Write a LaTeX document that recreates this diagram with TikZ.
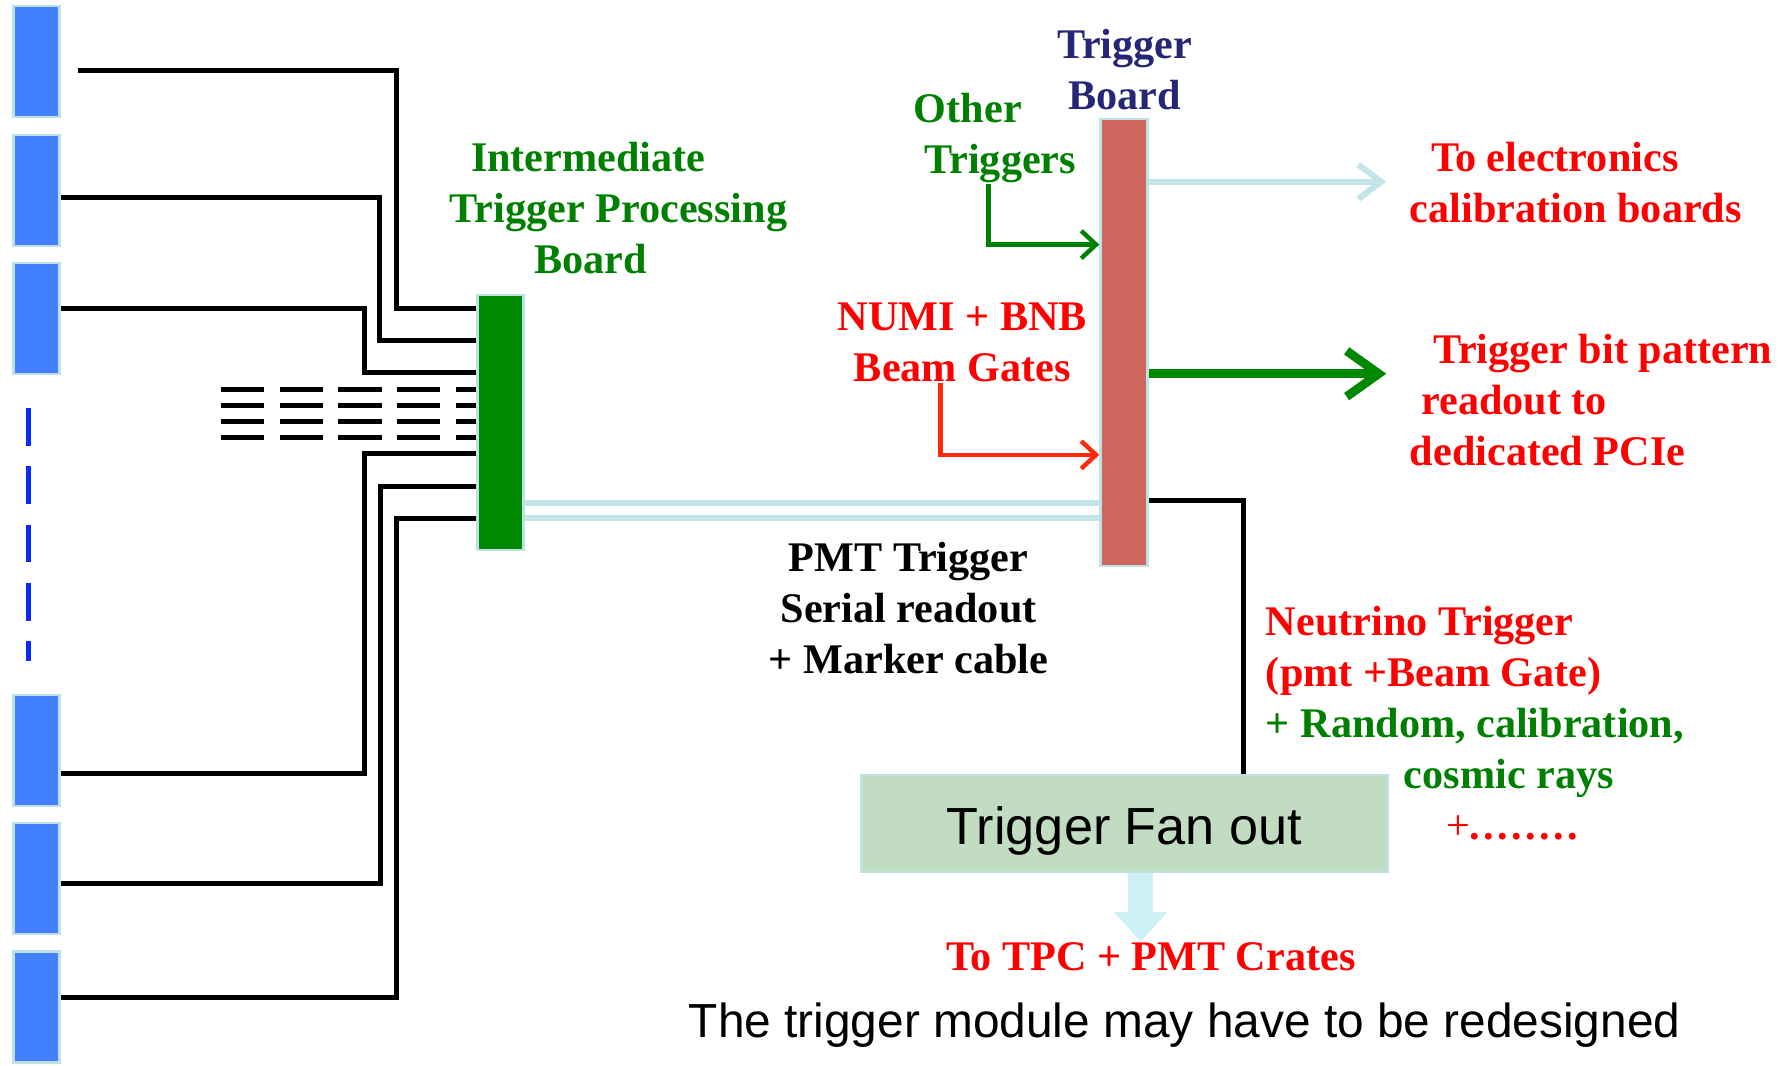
\documentclass[tikz,border=0pt]{standalone}
\usepackage{fontspec}
\setmainfont{Liberation Serif}
\setsansfont{Liberation Sans}
\usetikzlibrary{arrows.meta}
\definecolor{pmtblue}{RGB}{66,128,255}
\definecolor{dotblue}{RGB}{10,40,255}
\definecolor{boardgreen}{RGB}{0,136,0}
\definecolor{labelgreen}{RGB}{0,128,0}
\definecolor{tbred}{RGB}{205,102,92}
\definecolor{tbnavy}{RGB}{38,38,118}
\definecolor{cablecyan}{RGB}{195,228,232}
\definecolor{edgecyan}{RGB}{190,225,230}
\definecolor{fangreen}{RGB}{194,220,194}
\definecolor{beamred}{RGB}{255,40,10}
\definecolor{downcyan}{RGB}{205,240,245}
\newcommand{\dotrun}{\foreach \d in {1,...,8}{.\kern.08em}}
\begin{document}
\begin{tikzpicture}[x=0.01cm,y=-0.01cm,
  every node/.style={font=\fontsize{10.5}{12.7}\selectfont\bfseries,inner sep=0pt},
  pmtbox/.style={draw=edgecyan,fill=pmtblue,line width=0.6pt,minimum width=0.4cm,minimum height=0.97cm},
  wire/.style={line width=1.3pt},
  cable/.style={cablecyan,line width=1.5pt},
  barb/.style={line width=1.1pt,-{Straight Barb[length=0.13cm,width=0.24cm,line width=1.1pt]}}]
\useasboundingbox (0,0) rectangle (1568,932);
\node[pmtbox] (pmt1) at (32,54) {};
\node[pmtbox] (pmt2) at (32,166.5) {};
\node[pmtbox] (pmt3) at (32,278.5) {};
\node[pmtbox] (pmt4) at (32,656.5) {};
\node[pmtbox] (pmt5) at (32,768.5) {};
\node[pmtbox] (pmt6) at (32,881) {};
\draw[dotblue,line width=1.2pt,dash pattern=on 9.4pt off 5.1pt] (25,357) -- (25,578);
\foreach \x in {193,245,296,347}
  \foreach \y in {341,355,369,383}
    \draw[wire] (\x,\y) -- ++(38,0);
\foreach \y in {341,355,369,383}
  \draw[wire] (399,\y) -- (418,\y);
\node[draw=edgecyan,fill=boardgreen,line width=0.6pt,minimum width=0.4cm,minimum height=2.23cm] (itpb) at (438,369.5) {};
\coordinate (w1) at (68,62);
\draw[wire] (w1) -| (347,270) -- (itpb.west |- 0,270);
\foreach \pm/\ya/\xt/\yb in {pmt2/173/332/298,pmt3/270/319/326,pmt4/677/319/397,pmt5/773/333/426,pmt6/873/347/454}
  \draw[wire] (\pm.east |- 0,\ya) -| (\xt,\yb) -- (itpb.west |- 0,\yb);
\node[text=labelgreen,align=left,anchor=west] (itpblbl) at (393,182) {\hspace*{.5em}Intermediate\\Trigger Processing\\\hspace*{2em}Board};
\node[draw=edgecyan,fill=tbred,line width=0.6pt,minimum width=0.41cm,minimum height=3.91cm] (tb) at (983.5,299.5) {};
\node[text=tbnavy,align=center] (tblbl) at (984,61) {Trigger\\Board};
\draw[cable] (itpb.east |- 0,440) -- (tb.west |- 0,440);
\draw[cable] (itpb.east |- 0,453) -- (tb.west |- 0,453);
\node[align=center] (pmtlbl) at (795,532) {PMT Trigger\\Serial readout\\+ Marker cable};
\node[text=labelgreen,align=left,anchor=west] (other) at (799,121) {Other\\\hspace*{.25em}Triggers};
\draw[barb,labelgreen] (other.south -| 865,0) |- (tb.west |- 0,214);
\node[text=red,align=center] (beam) at (842,299.5) {NUMI + BNB\\Beam Gates};
\draw[barb,beamred] (beam.south -| 823,0) |- (tb.west |- 0,398);
\coordinate (calib) at (1213,159);
\coordinate (pcie) at (1213,327);
\draw[cablecyan,line width=1.5pt,-{Straight Barb[length=0.2cm,width=0.3cm,line width=1.5pt]}] (tb.east |- calib) -- (calib);
\draw[boardgreen,line width=2.2pt,-{Straight Barb[length=0.28cm,width=0.4cm,line width=2.2pt]}] (tb.east |- pcie) -- (pcie);
\node[text=red,align=left,anchor=west] (calibl) at (1233,159.5) {\hspace*{.5em}To electronics\\calibration boards};
\node[text=red,align=left,anchor=west] (pcielbl) at (1233,350) {\hspace*{.55em}Trigger bit pattern\\\hspace*{.27em}readout to\\dedicated PCIe};
\node[draw=edgecyan,fill=fangreen,line width=0.6pt,minimum width=4.6cm,minimum height=0.85cm,text height=0.46cm,font=\fontsize{13}{15}\selectfont\sffamily] (fanout) at (984,720.5) {Trigger Fan out};
\draw[wire] (tb.east |- 0,438) -| (fanout.north -| 1088,0);
\node[align=left,anchor=west] (nulbl) at (1107,633) {\textcolor{red}{Neutrino Trigger}\\\textcolor{red}{(pmt +Beam Gate)}\\\textcolor{labelgreen}{+ Random, calibration,}\\\hspace*{3.27em}\textcolor{labelgreen}{cosmic rays}\\\hspace*{4.27em}\textcolor{red}{\textmd{+}\dotrun}};
\node[text=red] (crates) at (1007,837) {To TPC + PMT Crates};
\draw[downcyan,line width=6.3pt,-{Triangle[length=0.26cm,width=0.45cm]}] (fanout.south -| 998,0) -- (998,824);
\node[anchor=west,font=\fontsize{11.9}{14}\selectfont\sffamily] (note) at (602,897) {The trigger module may have to be redesigned};
\end{tikzpicture}
\end{document}
